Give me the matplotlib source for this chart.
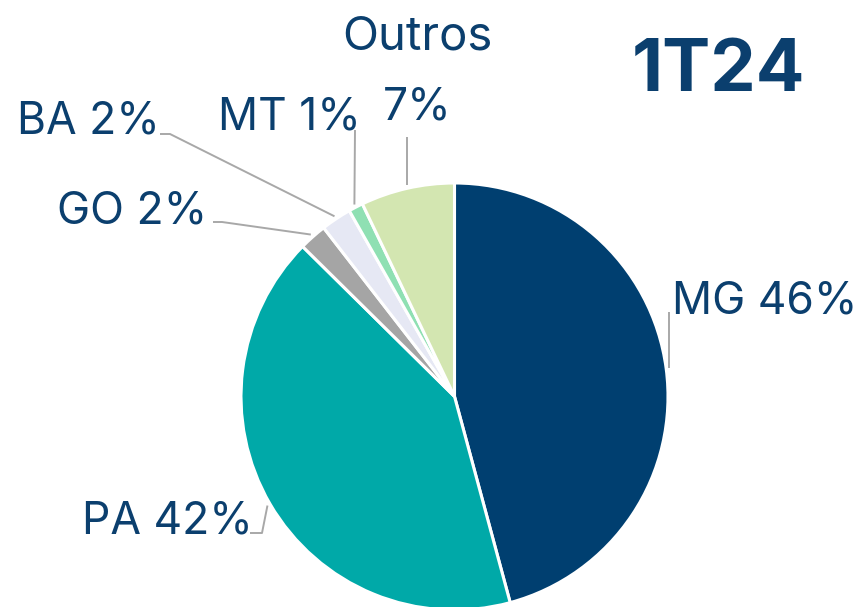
import matplotlib
matplotlib.use('Agg')
import matplotlib.pyplot as plt
import numpy as np

# ---- data ----
states = ['MG', 'PA', 'GO', 'BA', 'MT', 'Outros']
shares = [45.8, 41.6, 2.1, 2.3, 1.1, 7.1]
label_texts = ['MG 46%', 'PA 42%', 'GO 2%', 'BA 2%', 'MT 1%', '7%']
colors = ['#003f70', '#00a9a8', '#a5a5a5', '#e6e8f4', '#8fe0b3', '#d3e6b1']
title = '1T24'

W, H = 863, 607
TXT = '#0b3f6e'
LINE = '#a8a8a8'
FONT = 'Inter'

fig = plt.figure(figsize=(W / 100, H / 100), dpi=100)
ax = fig.add_axes([0, 0, 1, 1])

def Y(y):  # image y -> data y
    return H - y

cx, cy, R = 454.5, Y(396.5), 213.5
wedges, _ = ax.pie(shares, colors=colors, startangle=90, counterclock=False,
                   center=(cx, cy), radius=R, frame=True,
                   wedgeprops=dict(edgecolor='white', linewidth=2.2))
ax.set_xlim(0, W)
ax.set_ylim(0, H)
ax.set_aspect('equal')
ax.axis('off')

def edge_point(w, off=3):
    th = np.deg2rad((w.theta1 + w.theta2) / 2)
    return cx + (R + off) * np.cos(th), cy + (R + off) * np.sin(th)

# label layout: (left x or center x, baseline y in image px, ha)
layout = {
    'MG': (672, 313, 'left'),
    'PA': (82, 533, 'left'),
    'GO': (57, 223, 'left'),
    'BA': (17, 134, 'left'),
    'MT': (218, 130, 'left'),
    'Outros': (417, 120, 'center'),
}
# leader start points (image coords); None x = same as edge x (vertical)
leaders = {
    'MG': [(None, 312)],
    'PA': [(250, 533), (262, 533)],
    'GO': [(213, 222), (222, 222)],
    'BA': [(160, 134), (170, 134)],
    'MT': [(355, 130)],
    'Outros': [(None, 137)],
}

for w, st, lab in zip(wedges, states, label_texts):
    x, yb, ha = layout[st]
    ax.text(x, Y(yb), lab, ha=ha, va='baseline', fontsize=32, color=TXT,
            family=FONT)
    ex, ey = edge_point(w)
    pts = [((ex if px is None else px), Y(py)) for px, py in leaders[st]]
    pts.append((ex, ey))
    xs, ys = zip(*pts)
    ax.plot(xs, ys, color=LINE, lw=1.4, solid_capstyle='butt')

ax.text(417, Y(49), 'Outros', ha='center', va='baseline', fontsize=34,
        color=TXT, family=FONT)
ax.text(718, Y(91), title, ha='center', va='baseline', fontsize=52,
        color=TXT, family=FONT, fontweight='bold')

fig.savefig('out.png', dpi=100, facecolor='white')
